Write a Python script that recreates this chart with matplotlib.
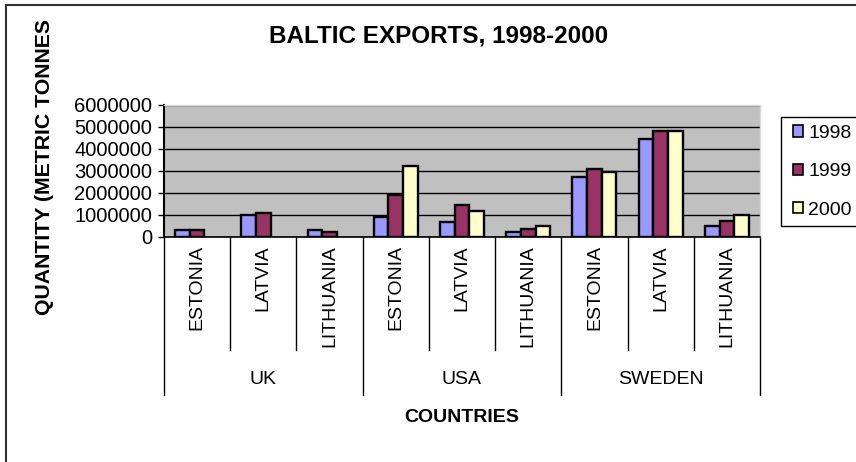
import numpy as np
import matplotlib
matplotlib.use('Agg')
import matplotlib.pyplot as plt
from matplotlib.patches import Rectangle, Patch

plt.rcParams['font.family'] = ['Liberation Sans', 'DejaVu Sans']

# Data
years = ['1998', '1999', '2000']
groups = ['UK', 'USA', 'SWEDEN']
countries = ['ESTONIA', 'LATVIA', 'LITHUANIA']
exports_1998 = [300000, 1000000, 300000, 900000, 700000, 250000, 2750000, 4450000, 500000]
exports_1999 = [300000, 1100000, 250000, 1900000, 1450000, 350000, 3080000, 4800000, 750000]
exports_2000 = [np.nan, np.nan, np.nan, 3250000, 1200000, 500000, 2970000, 4800000, 1000000]
y_ticks = [0, 1000000, 2000000, 3000000, 4000000, 5000000, 6000000]

colors = ['#9999FF', '#993366', '#FFFFCC']

W, H = 856, 462
fig = plt.figure(figsize=(W / 100, H / 100), dpi=100)

# plot area in pixels: left 164, right 760, top 105, bottom 237
L, R, T, B = 164, 760, 105, 237
ax = fig.add_axes([L / W, 1 - B / H, (R - L) / W, (B - T) / H])
ax.set_facecolor('#C0C0C0')


def px_to_axes(py):
    # convert a figure pixel row into axes fraction (vertical)
    return (B - py) / (B - T)


n = len(exports_1998)
centers = np.arange(n) + 0.5
bar_w = 0.222
for k, (vals, c) in enumerate(zip([exports_1998, exports_1999, exports_2000], colors)):
    ax.bar(centers + (k - 1) * bar_w, vals, width=bar_w, color=c,
           edgecolor='black', linewidth=1.7, zorder=3)

ax.set_xlim(0, n)
ax.set_ylim(0, 6000000)
ax.set_yticks(y_ticks)
ax.set_yticklabels([str(v) for v in y_ticks], fontsize=14.5)
ax.tick_params(axis='y', length=4.5, width=1, pad=4, color='black')
ax.set_xticks([])
ax.yaxis.grid(True, color='black', linewidth=1)
ax.set_axisbelow(True)

for side in ['top', 'right']:
    ax.spines[side].set_color('#D8D8D8')
    ax.spines[side].set_linewidth(1)
ax.spines['left'].set_linewidth(1.5)
ax.spines['bottom'].set_linewidth(1.2)

# multi-level category axis
xt = ax.get_xaxis_transform()
for i in range(n + 1):
    bottom_px = 395 if i % 3 == 0 else 350
    ax.plot([i, i], [0, px_to_axes(bottom_px)], transform=xt, color='black',
            linewidth=1, clip_on=False)
for i in range(n):
    ax.text(centers[i], px_to_axes(245), countries[i % 3], transform=xt,
            rotation=90, ha='center', va='top', fontsize=14, clip_on=False)
for g, name in enumerate(groups):
    ax.text(g * 3 + 1.5, px_to_axes(380), name, transform=xt,
            ha='center', va='center', fontsize=14, clip_on=False)

# titles
fig.text(439 / W, 1 - 36 / H, 'BALTIC EXPORTS, 1998-2000', ha='center',
         va='center', fontsize=17.5, fontweight='bold')
fig.text(45 / W, 1 - 167 / H, 'QUANTITY (METRIC TONNES', ha='center',
         va='center', rotation=90, fontsize=15.3, fontweight='bold')
fig.text(462 / W, 1 - 418 / H, 'COUNTRIES', ha='center', va='center',
         fontsize=14, fontweight='bold')

# legend with a frame running off the right edge
fig.patches.append(Rectangle((781 / W, 1 - 226 / H), 100 / W, 109 / H,
                             transform=fig.transFigure, facecolor='white',
                             edgecolor='black', linewidth=1, zorder=1))
handles = [Patch(facecolor=c, edgecolor='black', linewidth=1.2) for c in colors]
fig.legend(handles, years, loc='upper left',
           bbox_to_anchor=(789 / W, 1 - 121 / H), frameon=False, fontsize=14,
           handlelength=0.5, handleheight=0.5, handletextpad=0.3,
           labelspacing=1.1, borderpad=0.2, borderaxespad=0)

# outer chart border (only top and left visible)
fig.patches.append(Rectangle((5.5 / W, -0.1), 1.2, (H - 5.5) / H + 0.1,
                             transform=fig.transFigure, fill=False,
                             edgecolor='#333333', linewidth=1.5))

fig.savefig('out.png', dpi=100)
